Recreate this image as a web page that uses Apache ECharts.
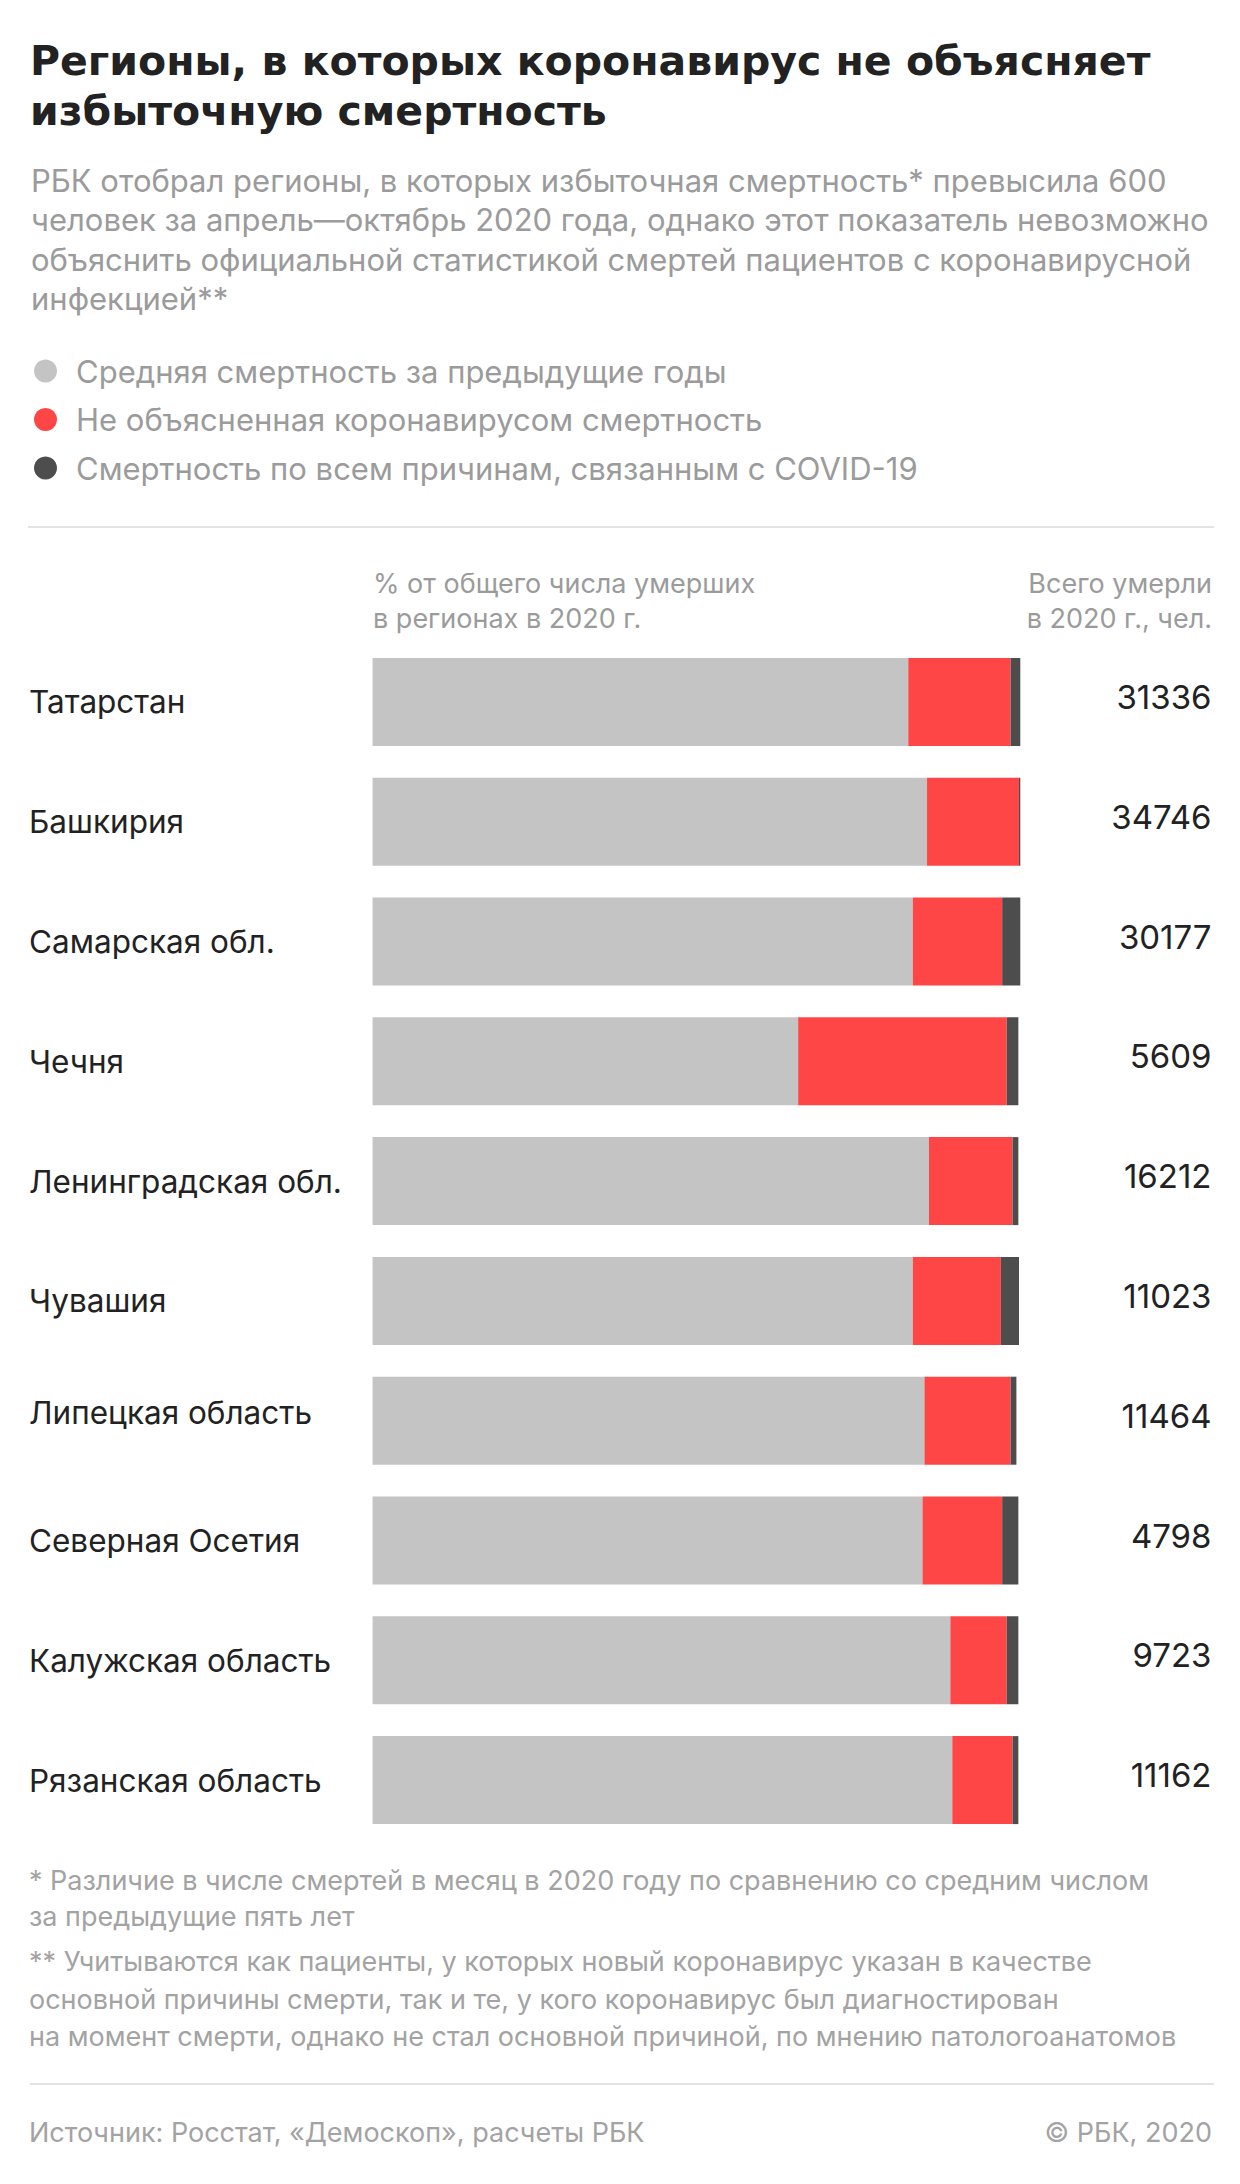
<!DOCTYPE html>
<html>
<head>
<meta charset="utf-8">
<script src="https://cdn.jsdelivr.net/npm/echarts@6/dist/echarts.min.js"></script>
<style>
html,body{margin:0;padding:0;background:#fff;}
#c{width:1240px;height:2184px;}
</style>
</head>
<body>
<div id="c"></div>
<script>
const regions = ['Татарстан','Башкирия','Самарская обл.','Чечня','Ленинградская обл.','Чувашия','Липецкая область','Северная Осетия','Калужская область','Рязанская область'];
const totals = [31336, 34746, 30177, 5609, 16212, 11023, 11464, 4798, 9723, 11162];
const avgShare = [82.7, 85.6, 83.4, 65.7, 85.9, 83.4, 85.2, 84.9, 89.2, 89.5];
const unexplainedShare = [15.8, 14.2, 13.8, 32.2, 12.9, 13.6, 13.3, 12.3, 8.7, 9.3];
const covidShare = [1.5, 0.3, 2.8, 1.8, 0.9, 2.8, 0.9, 2.5, 1.8, 0.9];
const seriesNames = ['Средняя смертность за предыдущие годы','Не объясненная коронавирусом смертность','Смертность по всем причинам, связанным с COVID-19'];

const FONT = 'Inter, "Noto Sans", sans-serif';
const TITLE_FONT = '"DejaVu Sans", Inter, sans-serif';
const GREY_TXT = '#9b9b9b';
const DARK_TXT = '#222222';

const titleLines = ['Регионы, в которых коронавирус не объясняет','избыточную смертность'];
const subtitleLines = [
  'РБК отобрал регионы, в которых избыточная смертность* превысила 600',
  'человек за апрель—октябрь 2020 года, однако этот показатель невозможно',
  'объяснить официальной статистикой смертей пациентов с коронавирусной',
  'инфекцией**'
];
const headLeft = ['% от общего числа умерших','в регионах в 2020 г.'];
const headRight = ['Всего умерли','в 2020 г., чел.'];
const notes = [
  '* Различие в числе смертей в месяц в 2020 году по сравнению со средним числом',
  'за предыдущие пять лет',
  '** Учитываются как пациенты, у которых новый коронавирус указан в качестве',
  'основной причины смерти, так и те, у кого коронавирус был диагностирован',
  'на момент смерти, однако не стал основной причиной, по мнению патологоанатомов'
];
const source = 'Источник: Росстат, «Демоскоп», расчеты РБК';
const copyright = '© РБК, 2020';

function txt(text, x, y, size, color, opts) {
  opts = opts || {};
  const st = {
    text: text, fill: color,
    font: (opts.weight || 'normal') + ' ' + size + 'px ' + (opts.family || FONT),
    align: opts.align || 'left', verticalAlign: opts.va || 'middle'
  };
  if (opts.lineHeight) st.lineHeight = opts.lineHeight;
  return {type: 'text', x: x, y: y, silent: true, style: st};
}

const graphics = [];
titleLines.forEach((t, i) => graphics.push(txt(t, 30, 61 + i * 50, 41, DARK_TXT, {weight: 'bold', family: TITLE_FONT})));
subtitleLines.forEach((t, i) => graphics.push(txt(t, 31, 180 + i * 39.5, 31, GREY_TXT)));
graphics.push({type: 'line', silent: true, shape: {x1: 28, y1: 527, x2: 1214, y2: 527}, style: {stroke: '#e3e3e3', lineWidth: 2}});
headLeft.forEach((t, i) => graphics.push(txt(t, 373, 583 + i * 35, 27, GREY_TXT)));
headRight.forEach((t, i) => graphics.push(txt(t, 1212, 583 + i * 35, 27, GREY_TXT, {align: 'right'})));
const noteY = [1880, 1916, 1961, 1999, 2036];
notes.forEach((t, i) => graphics.push(txt(t, 29, noteY[i], 27, '#a3a3a3')));
graphics.push({type: 'line', silent: true, shape: {x1: 30, y1: 2084, x2: 1214, y2: 2084}, style: {stroke: '#e3e3e3', lineWidth: 2}});
graphics.push(txt(source, 29, 2132, 27, '#a3a3a3'));
graphics.push(txt(copyright, 1212, 2132, 27, '#a3a3a3', {align: 'right'}));

const colors = ['#c4c4c4', '#ff4646', '#4d4d4d'];
const dataSets = [avgShare, unexplainedShare, covidShare];

const regionData = regions.map(r => r === 'Липецкая область'
  ? {value: r, textStyle: {align: 'left', verticalAlign: 'bottom', lineHeight: 16}}
  : r);

const chart = echarts.init(document.getElementById('c'), null, {renderer: 'svg', width: 1240, height: 2184});
chart.setOption({
  animation: false,
  backgroundColor: '#fff',
  color: colors,
  textStyle: {fontFamily: FONT},
  legend: {
    orient: 'vertical', left: 29, top: 350.5,
    icon: 'circle', itemWidth: 23, itemHeight: 23, itemGap: 17.5,
    selectedMode: false,
    textStyle: {fontSize: 31, color: GREY_TXT, fontFamily: FONT, lineHeight: 23, padding: [0, 0, 0, 14]},
    data: seriesNames
  },
  grid: {left: 372.6, right: 219.7, top: 642, height: 1198, containLabel: false, outerBoundsMode: 'none'},
  xAxis: {type: 'value', min: 0, max: 100, show: false},
  yAxis: [
    {
      type: 'category', data: regionData, inverse: true,
      axisLine: {show: false}, axisTick: {show: false}, splitLine: {show: false},
      axisLabel: {align: 'left', margin: 343.6, fontSize: 31.5, color: DARK_TXT, fontFamily: FONT}
    },
    {
      type: 'category', data: totals.map(String), inverse: true, position: 'right',
      axisLine: {show: false}, axisTick: {show: false}, splitLine: {show: false},
      axisLabel: {align: 'right', margin: 191.2, fontSize: 33, color: DARK_TXT, fontFamily: FONT, verticalAlign: 'bottom', lineHeight: 10}
    }
  ],
  series: seriesNames.map((n, i) => ({
    name: n, type: 'bar', stack: 'total', yAxisIndex: 0,
    barWidth: 88, data: dataSets[i],
    itemStyle: {color: colors[i]},
    emphasis: {disabled: true}
  })),
  graphic: graphics
});
</script>
</body>
</html>
